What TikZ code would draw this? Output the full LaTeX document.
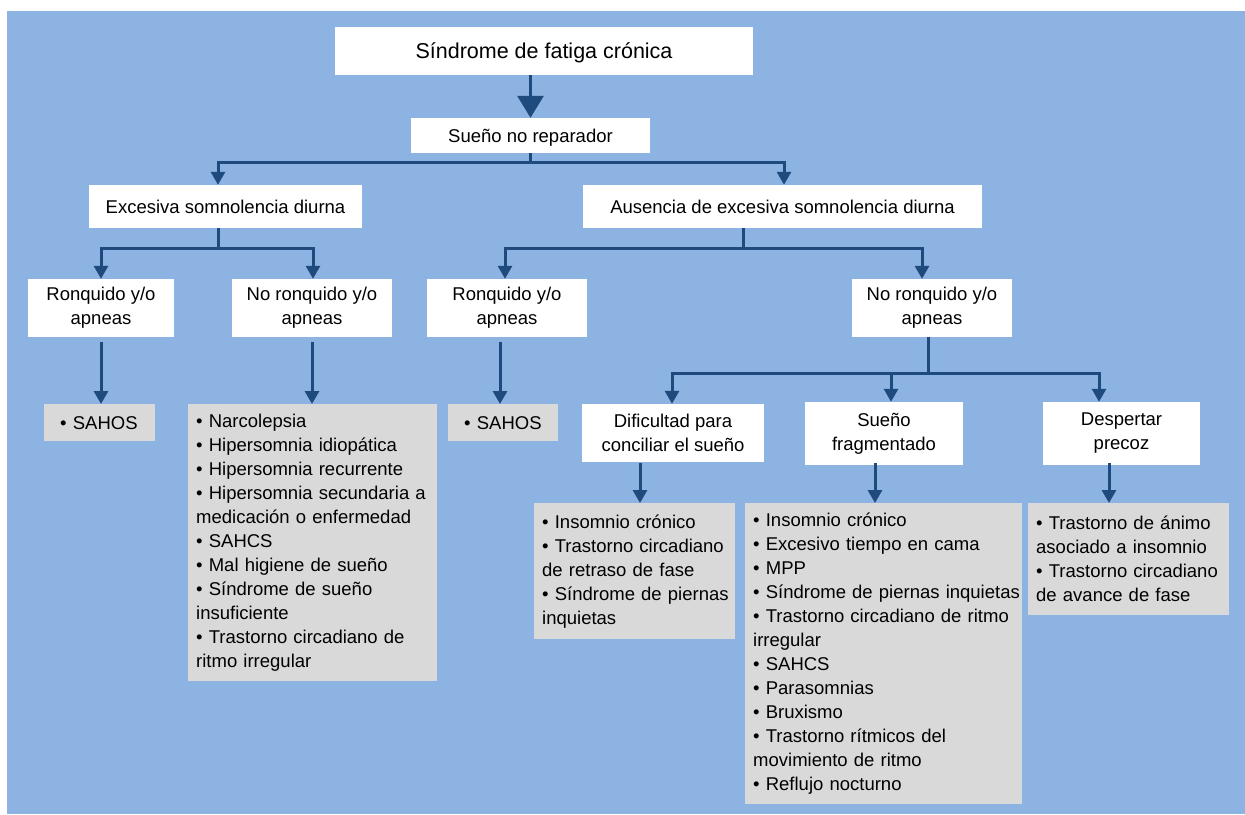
\documentclass[tikz,border=0pt]{standalone}
\usepackage{fontspec}
\setmainfont{Liberation Sans}
\usetikzlibrary{arrows.meta}
\definecolor{bgblue}{HTML}{8DB3E2}
\definecolor{boxgray}{HTML}{D9D9D9}
\definecolor{flowblue}{HTML}{1F4A7E}
\tikzstyle{question}=[fill=white, align=center, inner sep=0pt, font=\fontsize{18.5}{24}\selectfont]
\tikzstyle{one line}=[text depth=0pt]
\tikzstyle{answer box}=[fill=boxgray, anchor=north west, align=left, inner xsep=0pt, inner ysep=0pt, font=\fontsize{18.5}{24}\selectfont,
  execute at begin node={\leftskip=8pt\hyphenpenalty=10000\exhyphenpenalty=10000}]
\tikzstyle{flow}=[draw=flowblue, line width=3pt, line join=miter]
\tikzstyle{flow arrow}=[flow, -{Triangle[width=14pt,length=13pt]}]

\begin{document}
\begin{tikzpicture}[x=1pt, y=-1pt]
      \useasboundingbox (0, 0) rectangle (1245, 814);
      \fill[bgblue] (7, 11) rectangle (1245, 814);

      \node[question, one line, minimum width=418pt, minimum height=48pt, font=\fontsize{21.5}{26}\selectfont]
        (fatigue) at (544, 51) {Síndrome de fatiga crónica};
      \node[question, one line, minimum width=239pt, minimum height=35pt] (unrefreshing) at (530.5, 135.5) {Sueño no reparador};
      \node[question, one line, minimum width=273pt, minimum height=43pt] (sleepy) at (225.5, 206.5) {Excesiva somnolencia diurna};
      \node[question, one line, minimum width=399pt, minimum height=43pt] (not sleepy) at (782.5, 206.5) {Ausencia de excesiva somnolencia diurna};
      \node[question, minimum width=146pt, minimum height=58pt] (snore left) at (101, 308) {Ronquido y/o\\apneas};
      \node[question, minimum width=160pt, minimum height=58pt] (no snore left) at (312, 308) {No ronquido y/o\\apneas};
      \node[question, minimum width=160pt, minimum height=58pt] (snore right) at (507, 308) {Ronquido y/o\\apneas};
      \node[question, minimum width=160pt, minimum height=58pt] (no snore right) at (932, 308) {No ronquido y/o\\apneas};
      \node[question, minimum width=182pt, minimum height=58pt] (onset) at (673, 433) {Dificultad para\\conciliar el sueño};
      \node[question, minimum width=158pt, minimum height=63pt] (fragmented) at (884, 433.5) {Sueño\\fragmentado};
      \node[question, minimum width=157pt, minimum height=63pt] (early) at (1121.5, 433.5) {Despertar\\precoz};

      \node[answer box, text width=111pt, minimum height=37pt, execute at begin node={\leftskip=16pt}] (sahos left) at (44, 404) {• SAHOS};
      \node[answer box, text width=110pt, minimum height=37pt, execute at begin node={\leftskip=16pt}] (sahos right) at (448, 404) {• SAHOS};
      \node[answer box, text width=249pt, minimum height=277pt] (hypersomnia list) at (188, 404)
        {• Narcolepsia\\• Hipersomnia idiopática\\• Hipersomnia recurrente\\• Hipersomnia secundaria a\\medicación o enfermedad\\• SAHCS\\• Mal higiene de sueño\\• Síndrome de sueño\\insuficiente\\• Trastorno circadiano de\\ritmo irregular};
      \node[answer box, text width=201pt, minimum height=136pt] (onset list) at (534, 503)
        {• Insomnio crónico\\• Trastorno circadiano\\de retraso de fase\\• Síndrome de piernas\\inquietas};
      \node[answer box, text width=277pt, minimum height=301pt] (fragmented list) at (745, 503)
        {• Insomnio crónico\\• Excesivo tiempo en cama\\• MPP\\• Síndrome de piernas inquietas\\• Trastorno circadiano de ritmo\\irregular\\• SAHCS\\• Parasomnias\\• Bruxismo\\• Trastorno rítmicos del\\movimiento de ritmo\\• Reflujo nocturno};
      \node[answer box, text width=201pt, minimum height=112pt] (early list) at (1028, 503)
        {• Trastorno de ánimo\\asociado a insomnio\\• Trastorno circadiano\\de avance de fase};

      \coordinate (bus a left) at (218, 162);
      \coordinate (bus a right) at (784, 162);
      \coordinate (bus b left) at (101, 248);
      \coordinate (bus b right) at (313, 248);
      \coordinate (stem c) at (743, 248);
      \coordinate (bus c left) at (505, 248);
      \coordinate (bus c right) at (922, 248);
      \coordinate (stem d) at (928, 373);
      \coordinate (bus d left) at (672, 373);
      \coordinate (bus d mid) at (891, 373);
      \coordinate (bus d right) at (1099, 373);
      \coordinate (drop sahos right) at (500, 342);
      \coordinate (drop onset) at (640, 463);
      \coordinate (drop fragmented) at (875, 463);
      \coordinate (drop early) at (1109, 463);

      \draw[flow, -{Triangle[width=26pt,length=22pt]}] (fatigue.south -| unrefreshing.north) -- (unrefreshing.north);
      \draw[flow arrow] (unrefreshing.south) |- (bus a left) -- (bus a left |- sleepy.north);
      \draw[flow arrow] (unrefreshing.south) |- (bus a right) -- (bus a right |- not sleepy.north);
      \draw[flow arrow] (sleepy.south -| bus a left) |- (bus b left) -- (bus b left |- snore left.north);
      \draw[flow arrow] (sleepy.south -| bus a left) |- (bus b right) -- (bus b right |- no snore left.north);
      \draw[flow arrow] (not sleepy.south -| stem c) |- (bus c left) -- (bus c left |- snore right.north);
      \draw[flow arrow] (not sleepy.south -| stem c) |- (bus c right) -- (bus c right |- no snore right.north);
      \draw[flow arrow] (no snore right.south -| stem d) |- (bus d left) -- (bus d left |- onset.north);
      \draw[flow arrow] (no snore right.south -| stem d) |- (bus d mid) -- (bus d mid |- fragmented.north);
      \draw[flow arrow] (no snore right.south -| stem d) |- (bus d right) -- (bus d right |- early.north);
      \draw[flow arrow, shorten <=5pt] (snore left.south) -- (snore left.south |- sahos left.north);
      \draw[flow arrow, shorten <=5pt] (no snore left.south) -- (no snore left.south |- hypersomnia list.north);
      \draw[flow arrow] (drop sahos right) -- (drop sahos right |- sahos right.north);
      \draw[flow arrow] (drop onset) -- (drop onset |- onset list.north);
      \draw[flow arrow] (drop fragmented) -- (drop fragmented |- fragmented list.north);
      \draw[flow arrow] (drop early) -- (drop early |- early list.north);
    \end{tikzpicture}
\end{document}
